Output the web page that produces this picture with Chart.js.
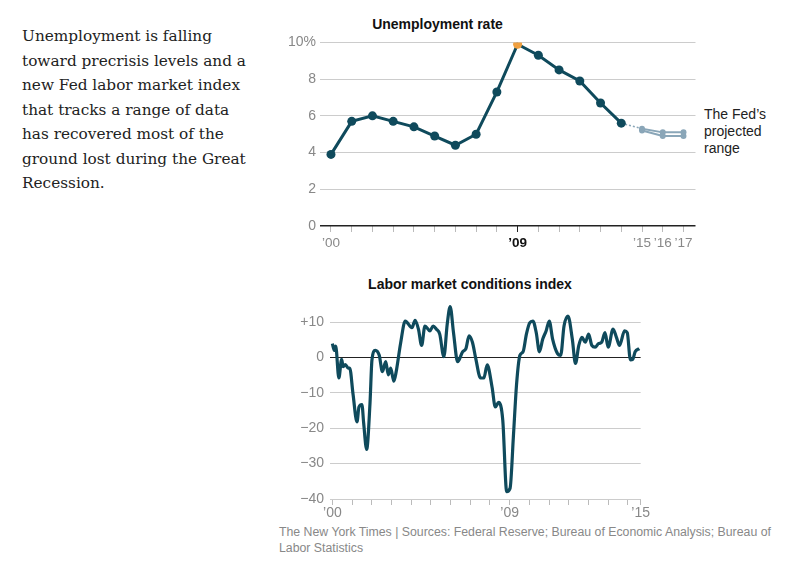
<!DOCTYPE html>
<html><head><meta charset="utf-8">
<script src="https://cdn.jsdelivr.net/npm/chart.js@4"></script>
<style>
body{margin:0;background:#fff;width:800px;height:572px;position:relative;overflow:hidden;font-family:"Liberation Sans",Arial,sans-serif}
.abs{position:absolute}
#intro{left:22px;top:24px;width:228px;font-family:"DejaVu Serif",serif;font-size:15.3px;line-height:24.5px;color:#222}
.ttl{font-weight:bold;font-size:14px;color:#111;text-align:center}
#fed{left:704px;top:106px;font-size:14px;line-height:17px;color:#222}
#foot{left:279px;top:524px;width:500px;font-size:12.3px;line-height:16px;color:#888}
</style></head><body>
<div id="intro" class="abs">Unemployment is falling toward precrisis levels and a new Fed labor market index that tracks a range of data has recovered most of the ground lost during the Great Recession.</div>
<div class="abs ttl" style="left:330px;top:16px;width:215px">Unemployment rate</div>
<div id="fed" class="abs">The Fed’s<br>projected<br>range</div>
<div class="abs ttl" style="left:350px;top:276px;width:240px">Labor market conditions index</div>
<div class="abs" style="left:280px;top:30px;width:420px;height:230px"><canvas id="c1"></canvas></div>
<div class="abs" style="left:280px;top:290px;width:370px;height:230px"><canvas id="c2"></canvas></div>
<div id="foot" class="abs">The New York Times | Sources: Federal Reserve; Bureau of Economic Analysis; Bureau of Labor Statistics</div>
<script>
var rateYears = [2000,2001,2002,2003,2004,2005,2006,2007,2008,2009,2010,2011,2012,2013,2014]
var rateValues = [3.9,5.7,6.0,5.7,5.4,4.9,4.4,5.0,7.3,9.9,9.3,8.5,7.9,6.7,5.6]
var projYears = [2015,2016,2017]
var projHigh = [5.3,5.1,5.1]
var projLow = [5.2,4.9,4.9]
var rateTicks = [0,2,4,6,8,10]

var lmciYears = [2000.00,2000.10,2000.17,2000.33,2000.47,2000.55,2000.66,2000.80,2000.88,2001.05,2001.25,2001.35,2001.50,2001.59,2001.74,2001.91,2002.01,2002.18,2002.38,2002.54,2002.71,2002.84,2002.96,2003.12,2003.24,2003.46,2003.70,2004.04,2004.20,2004.37,2004.53,2004.70,2004.95,2005.12,2005.28,2005.45,2005.66,2005.83,2005.98,2006.15,2006.36,2006.61,2006.78,2006.94,2007.11,2007.28,2007.52,2007.69,2007.86,2008.11,2008.27,2008.44,2008.65,2008.85,2009.02,2009.19,2009.35,2009.52,2009.68,2009.85,2010.02,2010.18,2010.35,2010.51,2010.68,2010.85,2011.01,2011.18,2011.43,2011.59,2011.76,2011.96,2012.18,2012.34,2012.51,2012.67,2012.84,2013.01,2013.17,2013.34,2013.51,2013.67,2013.84,2014.00,2014.25,2014.42,2014.58,2014.83,2014.97,2015.13,2015.25,2015.37,2015.58]
var lmciValues = [3.9,2,3.2,-5.8,-0.5,-2.6,-2,-3,-3,-10.4,-18.2,-14,-13.3,-18.6,-26,-13,-0.7,2,0.6,-4,-1.2,-4.9,-3,-6.7,-4,3.9,10.3,8.4,10.5,8,3.4,8.9,7.5,8.9,8,6.6,0.2,9.4,14.4,7,-1.2,1.6,2.5,6.1,4.3,-0.3,-5.8,-5.8,-2.1,-8.5,-14,-12.7,-17.7,-37.9,-37,-22.3,-7.6,0.6,1.6,6.6,9.8,10.3,7,1.6,5.2,7.5,10.3,5.2,1.1,0.6,8.9,11.7,5.2,-1.7,3.4,5.7,4.3,6.6,3.4,2.9,3.9,4.3,7,2.9,8,5.7,3.4,7.5,7,-0.7,-0.5,1.6,2.5]
var lmciTicks = [-40,-35,-30,-25,-20,-15,-10,-5,0,5,10,15]

var navy = '#0f4a5c'
var gray = '#888'
var fam = '"Liberation Sans", Arial, sans-serif'
var font = {family: fam, size: 14}

function toXY(xs, ys) { return xs.map(function (x, i) { return {x: x, y: ys[i]} }) }
function tv(c) { return c.tick ? c.tick.value : null }

new Chart(document.getElementById('c1'), {
  type: 'line',
  data: {datasets: [
    {data: toXY(rateYears, rateValues), borderColor: navy, borderWidth: 3, pointRadius: 4.5,
     pointBackgroundColor: rateYears.map(function (y) { return y == 2009 ? '#f0a040' : navy }),
     pointBorderWidth: 0, tension: 0},
    {data: toXY([2014, 2015], [rateValues[14], projHigh[0]]), borderColor: '#8aa6b8', borderWidth: 1.5, borderDash: [2, 2], pointRadius: 0},
    {data: toXY(projYears, projHigh), borderColor: '#8aa6b8', borderWidth: 2, pointRadius: 3, pointBackgroundColor: '#8aa6b8', pointBorderWidth: 0},
    {data: toXY(projYears, projLow), borderColor: '#8aa6b8', borderWidth: 2, pointRadius: 3, pointBackgroundColor: '#8aa6b8', pointBorderWidth: 0}
  ]},
  options: {
    responsive: true, maintainAspectRatio: false, animation: false,
    layout: {padding: {top: 9, right: 3, left: 0, bottom: 0}},
    plugins: {legend: {display: false}, tooltip: {enabled: false}},
    scales: {
      x: {type: 'linear', min: 1999.47, max: 2017.58,
        afterBuildTicks: function (s) { var t = []; for (var y = 2000; y <= 2017; y++) t.push({value: y}); s.ticks = t },
        afterFit: function (s) { s.height = 34 },
        border: {display: false},
        grid: {drawOnChartArea: false, tickLength: 6, color: function (c) { return tv(c) == 2009 ? '#222' : '#bbb' }},
        ticks: {autoSkip: false, maxRotation: 0, color: function (c) { return tv(c) == 2009 ? '#111' : gray },
          font: function (c) { return {family: fam, size: 13.5, weight: tv(c) == 2009 ? 'bold' : 'normal'} },
          callback: function (v) { return [2000, 2009, 2015, 2016, 2017].indexOf(v) >= 0 ? '\u2019' + String(v).slice(2) : '' }}
      },
      y: {min: 0, max: 10,
        afterBuildTicks: function (s) { s.ticks = rateTicks.map(function (v) { return {value: v} }) },
        afterFit: function (s) { s.width = 40 },
        border: {display: false},
        grid: {drawTicks: false, color: function (c) { return tv(c) == 0 ? '#222' : '#ccc' }, lineWidth: function (c) { return tv(c) == 0 ? 1.5 : 1 }},
        ticks: {color: gray, font: font, padding: 4, callback: function (v) { return v == 10 ? '10%' : v }}
      }
    }
  }
})

new Chart(document.getElementById('c2'), {
  type: 'line',
  data: {datasets: [
    {data: toXY(lmciYears, lmciValues), borderColor: navy, borderWidth: 3.2, pointRadius: 0, cubicInterpolationMode: 'monotone'}
  ]},
  options: {
    responsive: true, maintainAspectRatio: false, animation: false,
    layout: {padding: {top: 12, right: 3, left: 0, bottom: 0}},
    plugins: {legend: {display: false}, tooltip: {enabled: false}},
    scales: {
      x: {type: 'linear', min: 1999.88, max: 2015.65,
        afterBuildTicks: function (s) { var t = []; for (var y = 2000; y <= 2015; y++) t.push({value: y}); t.push({value: 2015.65}); s.ticks = t },
        afterFit: function (s) { s.height = 21 },
        border: {display: false},
        grid: {drawOnChartArea: false, tickLength: 6, color: '#bbb'},
        ticks: {autoSkip: false, maxRotation: 0, color: gray, font: font, padding: 0,
          callback: function (v) { return v == 2000 ? '\u201900' : v == 2009 ? '\u201909' : v == 2015.65 ? '\u201915' : '' }}
      },
      y: {min: -40, max: 15,
        afterBuildTicks: function (s) { s.ticks = lmciTicks.map(function (v) { return {value: v} }) },
        afterFit: function (s) { s.width = 50 },
        border: {display: false},
        grid: {drawTicks: false, color: function (c) { return tv(c) == 0 ? '#222' : '#ccc' }},
        ticks: {color: gray, font: font, padding: 6,
          callback: function (v) { return v % 10 ? '' : v > 0 ? '+' + v : v < 0 ? '\u2212' + (-v) : '0' }}
      }
    }
  }
})
</script>
</body></html>
